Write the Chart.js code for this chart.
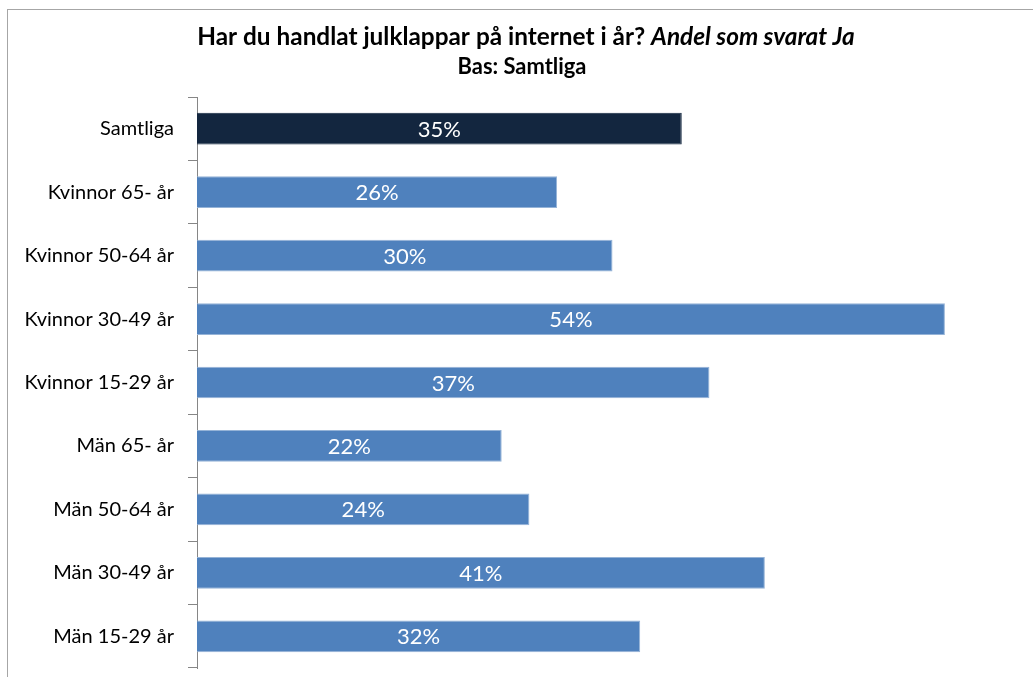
<!DOCTYPE html>
<html>
<head>
<meta charset="utf-8">
<script src="https://cdn.jsdelivr.net/npm/chart.js@4.4.1/dist/chart.umd.min.js"></script>
<style>
  html, body { margin: 0; padding: 0; background: #fff; }
  #wrap { position: relative; width: 1033px; height: 677px; }
</style>
</head>
<body>
<div id="wrap"><canvas id="julklapp-chart"></canvas></div>
<script>
// Data
const categories = [
  "Samtliga",
  "Kvinnor 65- år",
  "Kvinnor 50-64 år",
  "Kvinnor 30-49 år",
  "Kvinnor 15-29 år",
  "Män 65- år",
  "Män 50-64 år",
  "Män 30-49 år",
  "Män 15-29 år",
];
const shares = [35, 26, 30, 54, 37, 22, 24, 41, 32];
const axisMax = 60;

const titleMain = "Har du handlat julklappar på internet i år? ";
const titleItalic = "Andel som svarat Ja";
const subtitle = "Bas: Samtliga";

const FONT = "Lato, 'Open Sans', sans-serif";

// fit a bold font so the text spans a given width
function fitSize(ctx, style, text, target) {
  ctx.font = style + " 20px " + FONT;
  return (20 * target) / ctx.measureText(text).width;
}

// Frame and the two-line heading
const headingPlugin = {
  id: "heading",
  beforeDraw: function (chart) {
    const ctx = chart.ctx;
    ctx.save();
    ctx.fillStyle = "#fff";
    ctx.fillRect(0, 0, chart.width, chart.height);
    ctx.strokeStyle = "#a6a6a6";
    ctx.lineWidth = 1;
    ctx.strokeRect(7.5, 9.5, chart.width + 20, chart.height + 20);
    ctx.restore();
  },
  afterDraw: function (chart) {
    const ctx = chart.ctx;
    ctx.save();
    ctx.fillStyle = "#000";
    ctx.textBaseline = "alphabetic";
    ctx.textAlign = "left";

    // title: bold part + bold italic part
    ctx.font = "bold 20px " + FONT;
    const w1 = ctx.measureText(titleMain).width;
    ctx.font = "italic bold 20px " + FONT;
    const w2 = ctx.measureText(titleItalic).width;
    const size = (20 * 658) / (w1 + w2);
    ctx.font = "bold " + size + "px " + FONT;
    const a = ctx.measureText(titleMain).width;
    ctx.font = "italic bold " + size + "px " + FONT;
    const b = ctx.measureText(titleItalic).width;
    const startX = 526 - (a + b) / 2;
    ctx.font = "bold " + size + "px " + FONT;
    ctx.fillText(titleMain, startX, 45);
    ctx.font = "italic bold " + size + "px " + FONT;
    ctx.fillText(titleItalic, startX + a, 45);

    // subtitle
    const subSize = fitSize(ctx, "bold", subtitle, 129);
    ctx.font = "bold " + subSize + "px " + FONT;
    ctx.textAlign = "center";
    ctx.fillText(subtitle, 522, 74);
    ctx.restore();
  },
};

// White percentage labels in the middle of each bar
const barLabelPlugin = {
  id: "barLabels",
  afterDatasetsDraw: function (chart) {
    const ctx = chart.ctx;
    const meta = chart.getDatasetMeta(0);
    ctx.save();
    ctx.fillStyle = "#fff";
    ctx.font = "22px " + FONT;
    ctx.textAlign = "center";
    ctx.textBaseline = "middle";
    meta.data.forEach(function (bar, i) {
      const cx = (bar.x + bar.base) / 2;
      ctx.fillText(shares[i] + "%", cx, bar.y + 1);
    });
    ctx.restore();
  },
};

const ctx = document.getElementById("julklapp-chart").getContext("2d");

const julklappChart = new Chart(ctx, {
  type: "bar",
  data: {
    labels: categories,
    datasets: [
      {
        label: "Andel som svarat Ja",
        data: shares,
        backgroundColor: categories.map(function (c, i) {
          return i === 0 ? "#13263f" : "#4f81bd";
        }),
        borderColor: categories.map(function (c, i) {
          return i === 0 ? "#13263f" : "#95b3d7";
        }),
        borderWidth: 1,
        borderSkipped: "start",
        barPercentage: 0.5,
        categoryPercentage: 1,
      },
    ],
  },
  options: {
    indexAxis: "y",
    responsive: true,
    maintainAspectRatio: false,
    animation: false,
    layout: {
      padding: { top: 97, bottom: 9, left: 0, right: 5 },
    },
    plugins: {
      legend: { display: false },
      tooltip: { enabled: false },
      title: { display: false },
    },
    scales: {
      x: {
        display: false,
        min: 0,
        max: axisMax,
      },
      y: {
        afterFit: function (scale) {
          scale.width = 197;
          // no extra room for label overhang at the ends
          scale.paddingTop = 0;
          scale.paddingBottom = 0;
        },
        grid: {
          offset: true,
          drawOnChartArea: false,
          tickLength: 9,
          tickColor: "#868686",
          lineWidth: 1,
        },
        border: {
          color: "#868686",
          width: 1,
        },
        ticks: {
          padding: 14,
          color: "#000",
          font: {
            family: FONT,
            size: 20,
          },
        },
      },
    },
  },
  plugins: [headingPlugin, barLabelPlugin],
});
</script>
</body>
</html>
